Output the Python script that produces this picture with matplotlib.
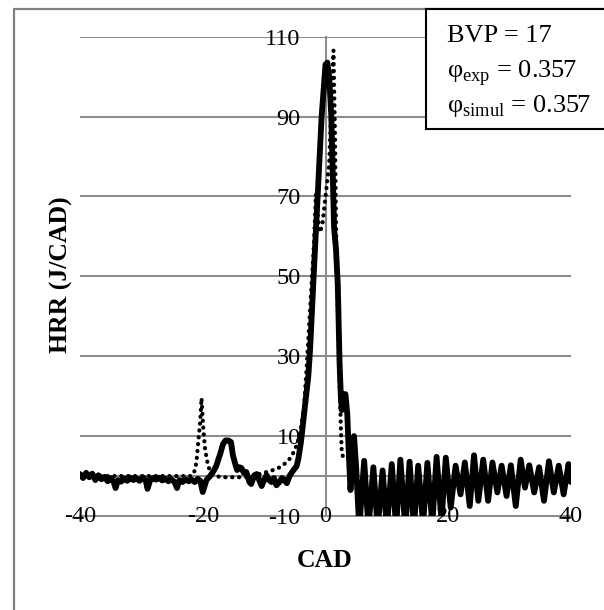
# -----------------------------
# HRR vs CAD: experiment (solid) and simulation (dotted)
# -----------------------------

import matplotlib
matplotlib.use("Agg")
import matplotlib.pyplot as plt
from matplotlib.lines import Line2D
from matplotlib.patches import Rectangle

plt.rcParams['font.family'] = ['Liberation Serif', 'DejaVu Serif']
plt.rcParams['mathtext.fontset'] = 'custom'
plt.rcParams['mathtext.rm'] = 'Liberation Serif'
plt.rcParams['axes.unicode_minus'] = False

# -----------------------------
# 1. Data
# -----------------------------

# experimental curve, before the oscillating tail
exp_cad = [-40, -39.5, -39, -38.5, -38, -37.5, -37, -36.5, -36, -35.5, -35, -34.5, -34.2,
           -33.8, -33.3, -32.8, -32.3, -31.8, -31.3, -30.8, -30.3, -29.8, -29.3, -29.0,
           -28.6, -28.1, -27.6, -27.1, -26.6, -26.1, -25.6, -25.1, -24.6, -24.2, -23.8,
           -23.3, -22.8, -22.3, -21.8, -21.3, -20.8, -20.4, -20.0, -19.4,
           -18.8, -18.3, -17.8, -17.5, -17.2, -16.7, -16.3, -15.8, -15.4, -15.1, -14.7,
           -14.4, -14.0, -13.7, -13.3, -12.9, -12.4, -12.1, -11.6, -11.2, -10.8, -10.4,
           -10.0, -9.6, -9.2, -8.8, -8.4, -8.0, -7.5, -7.1, -6.7, -6.3, -5.8, -5.2,
           -4.7, -4.4, -4.0, -3.6, -3.3, -2.8, -2.5, -1.9, -1.25, -0.63, 0.0, 0.3,
           0.6, 0.95, 1.4, 1.7, 2.0, 2.3, 2.5, 2.65, 2.95, 3.25, 3.55, 3.8, 4.07,
           4.3, 4.65, 5.0]
exp_hrr = [0.5, -0.5, 0.8, -0.3, 0.6, -1.0, 0.2, -0.8, -0.2, -1.3, -0.5, -1.5, -3.0,
           -1.0, -1.4, -0.6, -1.2, -0.4, -1.0, -0.6, -1.2, -0.3, -1.0, -3.2,
           -1.2, -0.5, -0.9, -0.4, -1.1, -0.7, -1.3, -0.8, -1.5, -3.0, -1.0,
           -1.5, -0.8, -1.3, -0.9, -1.5, -0.7, -1.2, -4.0, -1.0,
           0.0, 1.1, 2.5, 4.0, 5.3, 8.0, 8.9, 8.9, 8.5, 5.3, 3.0,
           1.5, 2.2, 2.0, 0.8, 1.0, -1.5, -2.0, 0.2, 0.5, -1.0, -2.5,
           -1.0, 0.2, -1.0, -1.5, -0.5, -2.3, -1.5, -0.5, -1.0, -1.8, 0.2, 1.5,
           2.5, 4.5, 8.5, 14.0, 18.0, 25.0, 32.0, 51.0, 71.0, 90.0, 103.0, 103.5,
           100.0, 90.0, 62.0, 57.0, 48.0, 28.0, 20.0, 16.5, 20.5, 20.5, 15.5, 5.5, -3.5,
           2.0, 10.0, 2.0]

# oscillating tail: alternating troughs and peaks
tail_cad = [5.5, 6.3, 7.0, 7.8, 8.5, 9.3, 10.0, 10.8, 11.5, 12.2, 13.0, 13.7, 14.4,
            15.1, 15.9, 16.6, 17.4, 18.1, 18.9, 19.6, 20.4, 21.2, 22.0, 22.7, 23.5,
            24.2, 24.9, 25.7, 26.5, 27.2, 28.0, 28.7, 29.5, 30.2, 31.0, 31.8, 32.5,
            33.2, 34.0, 34.8, 35.6, 36.4, 37.2, 38.0, 38.8, 39.6, 40.0]
tail_hrr = [-13, 3.8, -13, 2.2, -13, 1.4, -13, 3.0, -13, 4.1, -13, 3.6, -13,
            2.6, -12, 3.3, -12, 4.8, -11, 4.6, -7.9, 2.6, -4.6, 3.4, -7.5,
            5.2, -6.2, 4.1, -6.2, 3.4, -4.1, 2.6, -5.0, 2.7, -7.5, 4.1, -2.9,
            2.7, -4.1, 2.2, -6.2, 3.7, -4.1, 2.6, -4.6, 3.0, -1.5]

# simulation curve
sim_cad = [-40, -22.0, -21.5, -21.2, -21.0, -20.7, -20.4, -20.2, -19.9, -19.6, -19.1,
           -18.4, -17.0, -15.0, -13.7, -11.8, -10.1, -8.9, -7.7, -6.9, -5.9, -5.0,
           -4.2, -3.9, -3.5, -3.1, -2.5, -1.9, -1.57, -1.2, -0.9, -0.5, 0.0, 0.6,
           1.0, 1.3, 1.55, 1.75, 2.0, 2.2, 2.35, 2.5, 2.65, 2.9]
sim_hrr = [0, 0, 0.5, 2, 4, 9, 14.0, 19.5, 11.5, 6.5, 2.3,
           0.3, -0.3, -0.3, -0.3, 0, 0.8, 1.3, 2.0, 2.7, 4.2, 6.4,
           10.2, 13.0, 17.2, 26.6, 42.0, 57.5, 70.5, 64.0, 61.0, 63.0, 70.0, 78.0,
           95.0, 106.5, 85.0, 58.0, 42.0, 28.0, 20.0, 12.0, 6.0, 4.5]

x_ticks = [-40, -20, 0, 20, 40]
y_ticks = [-10, 10, 30, 50, 70, 90, 110]

box_lines = ["BVP = 17",
             "φ$_{\\mathrm{exp}}$ = 0.357",
             "φ$_{\\mathrm{simul}}$ = 0.357"]

# -----------------------------
# 2. Figure
# -----------------------------
W, H = 604, 610
fig = plt.figure(figsize=(W / 100, H / 100), dpi=100)
ax = fig.add_axes([80 / W, 1 - 516 / H, 491 / W, (516 - 36.6) / H])

grid_c = '#8c8c8c'
for yv in y_ticks[1:]:
    ax.axhline(yv, color=grid_c, lw=1.5, zorder=1)
ax.axhline(0, color=grid_c, lw=1.5, zorder=1)

ax.plot(sim_cad, sim_hrr, color='black', lw=3.0,
        linestyle=(0, (0.05, 1.6)), dash_capstyle='round', zorder=3)
ax.plot(exp_cad + tail_cad, exp_hrr + tail_hrr, color='black', lw=4.2,
        solid_joinstyle='round', solid_capstyle='round', zorder=4)

ax.set_xlim(-40, 40)
ax.set_ylim(-10, 110)

for s in ['top', 'right']:
    ax.spines[s].set_visible(False)
ax.spines['left'].set_position(('data', 0))
for s in ['left', 'bottom']:
    ax.spines[s].set_color(grid_c)
    ax.spines[s].set_linewidth(1.5)
    ax.spines[s].set_zorder(1)

ax.set_xticks(x_ticks)
ax.set_yticks(y_ticks)
ax.tick_params(axis='both', length=0, labelsize=17.5)
ax.tick_params(axis='x', pad=0)
ax.tick_params(axis='y', pad=18)
plt.setp(ax.get_xticklabels(), va='center')
ax.xaxis.set_zorder(5)

fig.text(61.6 / W, 1 - 275 / H, "HRR (J/CAD)", rotation=90, ha='center', va='center',
         fontsize=18.5, fontweight='bold')
fig.text(325 / W, 1 - 560.5 / H, "CAD", ha='center', va='center',
         fontsize=18.5, fontweight='bold')

# outer chart frame (cropped at right and bottom)
fx, fy = 13.5 / W, 1 - 9 / H
fig.add_artist(Line2D([fx, fx, 1.0], [0.0, fy, fy], transform=fig.transFigure,
                      color='#808080', lw=1.6, zorder=2))

# annotation box
fig.add_artist(Rectangle((425.6 / W, 1 - 129 / H), 0.5, (129 - 9) / H,
                         transform=fig.transFigure, facecolor='white', ec='black',
                         lw=1.5, zorder=5))
for txt, base in zip(box_lines, [42.4, 77, 111.7]):
    fig.text(447 / W, 1 - base / H, txt, ha='left', va='baseline', fontsize=19, zorder=6)

fig.savefig("out.png", dpi=100)
